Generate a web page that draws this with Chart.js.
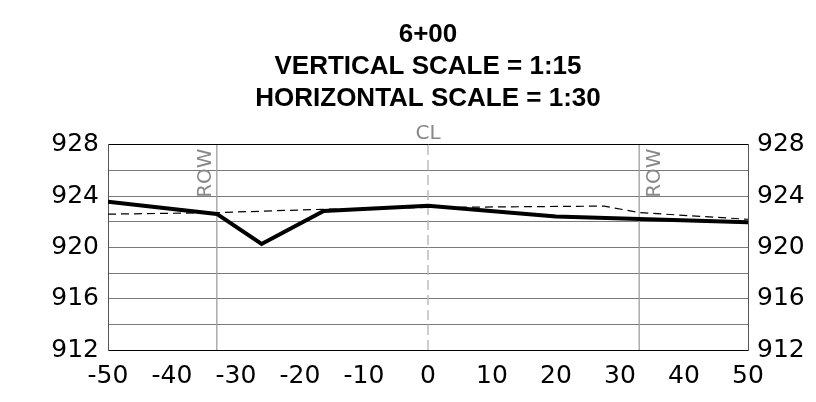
<!DOCTYPE html>
<html>
<head>
    <title>6+00 cross section</title>
    <style>
        body { margin: 0; background: #fff; }
        #chart-container { width: 816px; height: 402px; }
    </style>
</head>
<body>
    <div id="chart-container">
        <canvas id="myChart"></canvas>
    </div>

    <script src="https://cdn.jsdelivr.net/npm/chart.js"></script>
    <script>
        // Данные профиля (offset, elevation)
        const titleLines = ['6+00', 'VERTICAL SCALE = 1:15', 'HORIZONTAL SCALE = 1:30'];
        const existingX = [-50, -33, -26, -16.3, 0, 20, 50];
        const existingY = [923.57, 922.62, 920.27, 922.85, 923.25, 922.42, 921.97];
        const proposedX = [-50, -33, -16.5, 0, 27.5, 33, 50];
        const proposedY = [922.6, 922.72, 922.98, 923.12, 923.23, 922.72, 922.2];
        const rowOffsets = [-33, 33];
        const clOffset = 0;
        const xTicks = [-50, -40, -30, -20, -10, 0, 10, 20, 30, 40, 50];
        const yTicks = [912, 916, 920, 924, 928];
        const yMin = 912, yMax = 928;

        const toPoints = (xs, ys) => xs.map((x, i) => ({ x: x, y: ys[i] }));

        const datasets = [
            {
                label: 'Existing',
                data: toPoints(existingX, existingY),
                borderColor: '#000',
                borderWidth: 4,
                pointRadius: 0,
                showLine: true,
            },
            {
                label: 'Proposed',
                data: toPoints(proposedX, proposedY),
                borderColor: '#000',
                borderWidth: 1.2,
                borderDash: [8, 5],
                pointRadius: 0,
                showLine: true,
            },
        ];
        rowOffsets.forEach(x => datasets.push({
            label: 'ROW',
            data: [{ x: x, y: yMin }, { x: x, y: yMax }],
            borderColor: '#a0a0a0',
            borderWidth: 1.3,
            pointRadius: 0,
            showLine: true,
        }));
        datasets.push({
            label: 'CL',
            data: [{ x: clOffset, y: yMin }, { x: clOffset, y: yMax }],
            borderColor: '#bdbdbd',
            borderWidth: 1.5,
            borderDash: [10, 5],
            pointRadius: 0,
            showLine: true,
        });

        // подписи ROW / CL
        const markerLabels = {
            id: 'markerLabels',
            afterDatasetsDraw(chart) {
                const ctx = chart.ctx;
                const xs = chart.scales.x, ys = chart.scales.y;
                ctx.save();
                ctx.fillStyle = '#888';
                ctx.font = '20px "DejaVu Sans"';
                ctx.textAlign = 'center';
                ctx.textBaseline = 'alphabetic';
                const yc = ys.getPixelForValue(925.8);
                rowOffsets.forEach(x => {
                    const px = xs.getPixelForValue(x);
                    const bx = x < 0 ? px - 6 : px + 21;
                    ctx.save();
                    ctx.translate(bx, yc);
                    ctx.rotate(-Math.PI / 2);
                    ctx.fillText('ROW', 0, 0);
                    ctx.restore();
                });
                ctx.textBaseline = 'middle';
                ctx.fillText('CL', xs.getPixelForValue(clOffset), chart.chartArea.top - 11);
                ctx.restore();
            }
        };

        const tickFont = { family: 'DejaVu Sans', size: 25 };
        const yTickCallback = v => (yTicks.includes(v) ? String(v) : '');
        const gridColor = ctx => {
            const v = ctx.tick && ctx.tick.value;
            return (v === yMin || v === yMax) ? '#000' : '#7a7a7a';
        };

        new Chart(document.getElementById('myChart'), {
            type: 'scatter',
            data: { datasets: datasets },
            options: {
                responsive: true,
                maintainAspectRatio: false,
                animation: false,
                layout: { padding: 0 },
                plugins: {
                    legend: { display: false },
                    tooltip: { enabled: false },
                    title: {
                        display: true,
                        text: titleLines,
                        fullSize: false,
                        color: '#000',
                        font: { family: 'Liberation Sans', size: 26, weight: 'bold', lineHeight: 1.23 },
                        padding: { top: 19, bottom: 30 },
                    },
                },
                scales: {
                    x: {
                        type: 'linear',
                        min: -50,
                        max: 50,
                        afterBuildTicks: s => { s.ticks = xTicks.map(v => ({ value: v })); },
                        ticks: { color: '#000', font: tickFont, padding: 11, maxRotation: 0, autoSkip: false },
                        grid: { color: 'rgba(0,0,0,0)', drawTicks: false },
                        border: { color: '#000', width: 1 },
                        afterFit: s => { s.height = 52; },
                    },
                    y: {
                        position: 'left',
                        min: yMin,
                        max: yMax,
                        ticks: { stepSize: 2, autoSkip: false, color: '#000', font: tickFont, padding: 9, callback: yTickCallback },
                        grid: { color: gridColor, drawTicks: false, lineWidth: 1 },
                        border: { color: '#555', width: 1 },
                        afterFit: s => { s.width = 108; },
                    },
                    y2: {
                        position: 'right',
                        min: yMin,
                        max: yMax,
                        ticks: { stepSize: 2, autoSkip: false, color: '#000', font: tickFont, padding: 9, callback: yTickCallback },
                        grid: { display: false, drawTicks: false },
                        border: { color: '#555', width: 1 },
                        afterFit: s => { s.width = 68; },
                    },
                },
            },
            plugins: [markerLabels],
        });
    </script>
</body>
</html>
